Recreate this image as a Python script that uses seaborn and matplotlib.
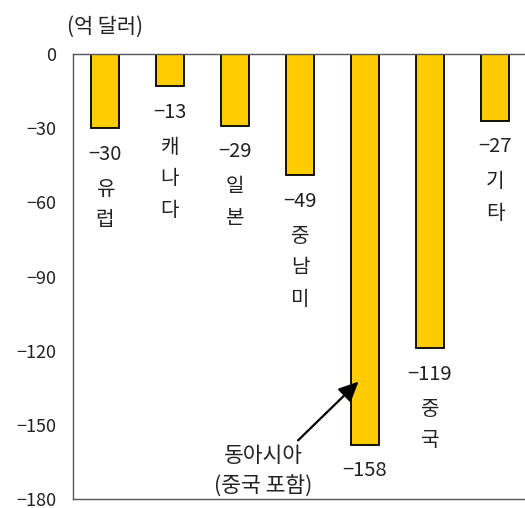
import matplotlib
matplotlib.use('Agg')
import matplotlib.pyplot as plt
import seaborn as sns
import pandas as pd

# data
regions = ['유럽', '캐나다', '일본', '중남미', '동아시아', '중국', '기타']
region_labels = ['유\n럽', '캐\n나\n다', '일\n본', '중\n남\n미', '', '중\n국', '기\n타']
balance = [-30, -13, -29, -49, -158, -119, -27]
y_ticks = [0, -30, -60, -90, -120, -150, -180]

sns.set_theme(style='white')
plt.rcParams['font.family'] = ['Noto Sans CJK KR', 'DejaVu Sans']
plt.rcParams['axes.unicode_minus'] = True

df = pd.DataFrame({'region': regions, 'balance': balance})

fig = plt.figure(figsize=(5.25, 5.08), dpi=100)
ax = fig.add_axes([73 / 525, 1 - 499 / 508, 1 - 73 / 525, (499 - 54) / 508])

sns.barplot(data=df, x='region', y='balance', color='#FFCC00', edgecolor='black',
            linewidth=1.3, width=0.42, saturation=1, ax=ax)

ax.set_ylim(-180, 0)
ax.set_xlim(-0.49, 6.46)
ax.set_yticks(y_ticks)
ax.set_yticklabels(['0' if t == 0 else '\u2212' + str(-t) for t in y_ticks], fontsize=13)
ax.tick_params(axis='y', length=0, pad=12, colors='#222222')
ax.set_xticks([])
ax.set_xlabel('')
ax.set_ylabel('')

for side in ['left', 'top', 'bottom']:
    ax.spines[side].set_color('#555555')
    ax.spines[side].set_linewidth(1.0)
ax.spines['right'].set_visible(False)

# value labels and vertical region names below each bar
for i, (v, name) in enumerate(zip(balance, region_labels)):
    ax.text(i, v - 10.5, '\u2212' + str(-v), ha='center', va='center', fontsize=14.5,
            color='#222222')
    if name:
        ax.text(i, v - 20.5, name, ha='center', va='top', fontsize=14.5,
                color='#222222', linespacing=1.65)

ax.annotate('', xy=(3.9, -132.5), xytext=(2.97, -156.3),
            arrowprops=dict(arrowstyle='-|>,head_length=0.6,head_width=0.28', color='black',
                            lw=1.6, mutation_scale=20, shrinkA=0, shrinkB=0))
ax.text(2.44, -168.7, '동아시아\n(중국 포함)', ha='center', va='center', fontsize=15.5,
        color='#222222', linespacing=1.5)

fig.text(67 / 525, 1 - 27 / 508, '(억 달러)', ha='left', va='center', fontsize=15,
         color='#222222')

plt.savefig('out.png', dpi=100)
